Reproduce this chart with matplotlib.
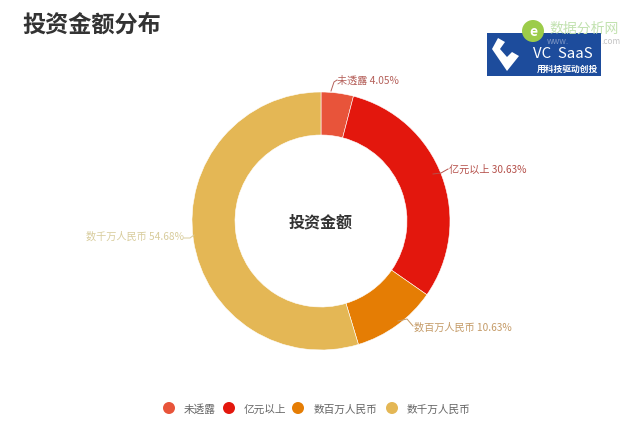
import matplotlib
matplotlib.use('Agg')
import matplotlib.pyplot as plt
from matplotlib.patches import Rectangle, Circle, Polygon

plt.rcParams['font.family'] = ['Noto Sans CJK SC', 'DejaVu Sans']

# data
names = ['未透露', '亿元以上', '数百万人民币', '数千万人民币']
values = [4.05, 30.63, 10.63, 54.68]
colors = ['#e8543a', '#e3170d', '#e57d04', '#e4b755']
label_colors = ['#b5605a', '#b5504a', '#c49a66', '#d8cc9c']

# label anchor, leader line in pixels
label_pos = [(337, 81), (449, 170), (414, 328), (86, 237)]
leaders = [
    [(331, 92), (334, 83), (337, 81)],
    [(433, 175), (441, 174), (448, 170)],
    [(398, 322), (407, 320), (413, 327)],
    [(184, 239), (190, 239), (194, 236)],
]
legend_x = [169, 229, 298, 392]
legend_text_x = [184, 244, 314, 407]

H = 427
fig = plt.figure(figsize=(6.4, 4.27), dpi=100)
ax = fig.add_axes([0, 0, 1, 1])

ax.pie(values, colors=colors, startangle=90, counterclock=False,
       center=(321, H - 222), radius=129, frame=True,
       wedgeprops=dict(width=43, edgecolor='white', linewidth=0.4))
ax.set_xlim(0, 640)
ax.set_ylim(0, H)
ax.set_aspect('auto')
ax.axis('off')

# title and centre
ax.text(22, H - 25, '投资金额分布', fontsize=16.7, fontweight='bold', color='#333333', ha='left', va='center')
ax.text(321, H - 222, '投资金额', fontsize=11.5, fontweight='bold', color='#333333', ha='center', va='center')

# slice labels
for i in range(len(names)):
    x, y = label_pos[i]
    ax.text(x, H - y, f'{names[i]} {values[i]:.2f}%', fontsize=7.3, color=label_colors[i],
            ha='left', va='center')
    xs = [p[0] for p in leaders[i]]
    ys = [H - p[1] for p in leaders[i]]
    ax.plot(xs, ys, color=label_colors[i], lw=0.7)

# legend
for i in range(len(names)):
    ax.add_patch(Circle((legend_x[i], H - 409), 6, color=colors[i], lw=0))
    ax.text(legend_text_x[i], H - 409.5, names[i], fontsize=7.7, color='#666666', ha='left', va='center')

# logo block
ax.add_patch(Rectangle((487, H - 77), 114, 43, color='#1d4c9c', lw=0))
ax.add_patch(Polygon([(498, H - 39), (492, H - 50), (507, H - 72), (519, H - 57), (512, H - 53),
                      (507, H - 58), (500, H - 50), (505, H - 43)],
                     closed=True, color='white', lw=0))
ax.text(533, H - 54, 'VC  SaaS', fontsize=10.8, color='white', ha='left', va='center')
ax.text(567, H - 69, '用科技驱动创投', fontsize=6.3, fontweight='bold', color='white', ha='center', va='center')

# watermark
ax.add_patch(Circle((533, H - 32), 11, color='#9ccc4a', lw=0))
ax.text(533, H - 32, 'e', fontsize=10, fontstyle='italic', fontweight='bold', color='white', ha='center', va='center')
ax.text(549, H - 29, '数据分析网', fontsize=10, color='#c2e2b0', ha='left', va='center')
ax.text(547, H - 42, 'www.', fontsize=6, color='#7d96c4', ha='left', va='center')
ax.text(601, H - 42, '.com', fontsize=6, color='#c4c4c4', ha='left', va='center')

fig.savefig('out.png', dpi=100)
